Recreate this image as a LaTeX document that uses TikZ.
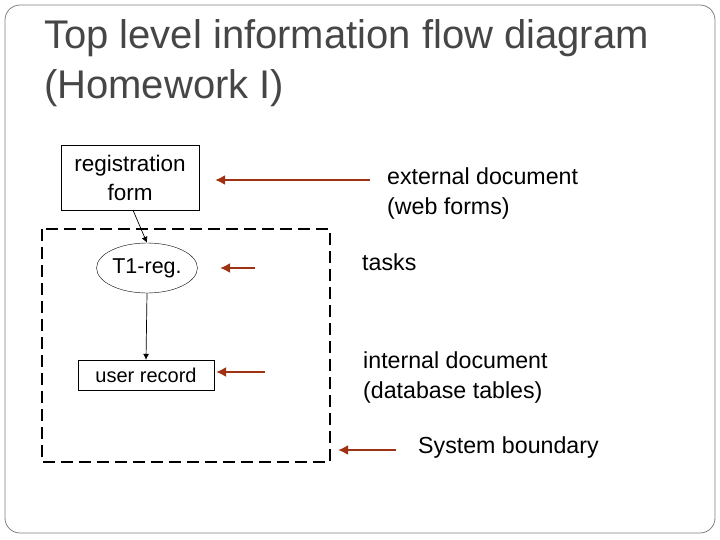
\documentclass[tikz,border=0pt]{standalone}
\usepackage{fontspec}
\setmainfont{Liberation Sans}
\usetikzlibrary{shapes.geometric,arrows.meta}
\definecolor{brn}{RGB}{160,50,20}
\definecolor{ttl}{RGB}{70,70,70}
\begin{document}
\begin{tikzpicture}[x=1pt,y=-1pt,
  lbl/.style={font=\fontsize{23.2}{30}\selectfont,align=left,anchor=west,inner sep=0},
  barrow/.style={draw=brn,line width=2.5pt,-{Latex[length=10pt,width=10pt]}},
  karrow/.style={draw=black,line width=0.7pt,-{Latex[length=6pt,width=6pt]}}]
\useasboundingbox (0,0) rectangle (720,540);
\draw[gray,line width=0.8pt,rounded corners=15pt] (5,5) rectangle (715,533);
\node[anchor=west,inner sep=0,text=ttl,align=left,font=\fontsize{40}{50}\selectfont] (title) at (44,63) {Top level information flow diagram\\(Homework I)};
\node[draw,minimum width=138pt,minimum height=65pt,align=center,font=\fontsize{22.5}{29}\selectfont] (reg) at (130,177.5) {registration\\form};
\draw[line width=2pt,dash pattern=on 12pt off 6pt] (42,229) rectangle (330,462);
\node[draw,ellipse,minimum width=100pt,minimum height=50pt,inner sep=1pt,font=\fontsize{21.5}{26}\selectfont] (t1) at (147,268) {T1-reg.};
\node[draw,minimum width=136pt,minimum height=30pt,font=\fontsize{20}{24}\selectfont] (ur) at (146,375) {user record};
\draw[karrow] (reg.south) ++(3,0) coordinate (rs) -- (t1.north);
\draw[karrow] (t1.south) -- (ur.north);
\node[lbl] (ext) at (387,193) {external document\\(web forms)};
\node[lbl] (tasks) at (362,262) {tasks};
\node[lbl] (int) at (363,377) {internal document\\(database tables)};
\node[lbl] (sb) at (418,447) {System boundary};
\coordinate (a1) at (370,180); \coordinate (a1e) at (215,180);
\coordinate (a2) at (255,268); \coordinate (a2e) at (220,268);
\coordinate (a3) at (265,372); \coordinate (a3e) at (216,372);
\coordinate (a4) at (396,450); \coordinate (a4e) at (338,450);
\draw[barrow] (a1) -- (a1e);
\draw[barrow] (a2) -- (a2e);
\draw[barrow] (a3) -- (a3e);
\draw[barrow] (a4) -- (a4e);
\end{tikzpicture}
\end{document}
